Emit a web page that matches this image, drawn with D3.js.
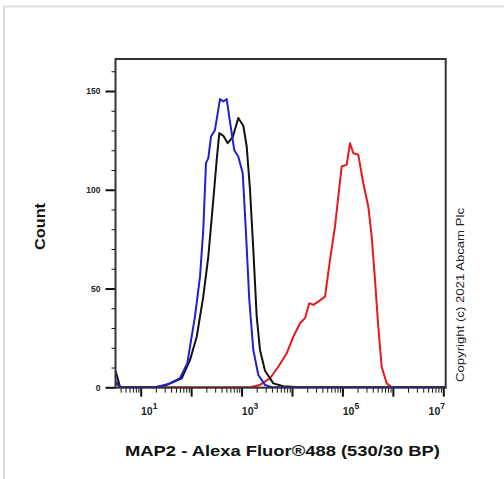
<!DOCTYPE html>
<html>
<head>
<meta charset="utf-8">
<script src="https://cdn.jsdelivr.net/npm/d3@7"></script>
<style>
  body { margin: 0; background: #fff; }
  svg { display: block; font-family: Arial, "Liberation Sans", sans-serif; }
</style>
</head>
<body>
<div class="canvas"></div>
<script>
// fluorescence intensity (linear units) and event counts
const blueX = [3.2, 3.9, 20.8, 38, 60, 84, 119, 150, 174, 197, 219, 248, 297, 374, 435, 507, 609, 718, 861, 1054, 1224, 1423, 1710, 2148, 2915, 4018, 11000000];
const blueY = [3, 0, 0, 2, 4.6, 12.2, 35.8, 56, 79.7, 113.5, 116, 127, 130.3, 145.9, 144.7, 145.9, 132, 120, 116.8, 108.4, 78, 44.2, 18.9, 6.2, 1.2, 0, 0];

const blackX = [3.2, 3.9, 19, 32.8, 65, 95, 129, 174, 219, 275, 321, 362, 435, 531, 667, 861, 1083, 1265, 1470, 1710, 1995, 2320, 2915, 4260, 6730, 14400, 11000000];
const blackY = [8, 0, 0, 1.2, 4.6, 13.8, 25.6, 45.9, 66.2, 94.9, 115, 128.7, 127.3, 123.6, 126.6, 136.3, 132.4, 121.9, 100, 69.6, 35.8, 18.9, 8.4, 2, 0.5, 0, 0];

const redX = [3.2, 3.9, 1470, 2320, 3664, 5354, 7852, 10620, 14420, 18120, 22040, 26480, 33260, 45170, 56750, 71270, 82800, 96800, 121600, 141300, 164400, 206500, 259400, 325800, 381000, 442600, 514000, 601000, 755000, 948000, 11000000];
const redY = [2, 0, 0, 1.2, 4.6, 10.4, 17.2, 25.6, 32.4, 35, 42.6, 41.7, 43.4, 45.9, 64.5, 81.4, 96.6, 111.8, 112.6, 123.6, 118.5, 117.7, 103.3, 91.5, 76.3, 54.4, 30.7, 10.4, 2, 0, 0];

const yTicks = [0, 50, 100, 150];
const yMinor = [10, 20, 30, 40, 60, 70, 80, 90, 110, 120, 130, 140, 160];
const xDecades = [10, 100, 1000, 10000, 100000, 1000000, 10000000];
const xLabelExp = [1, 3, 5, 7];

const xTitle = "MAP2 - Alexa Fluor®488 (530/30 BP)";
const yTitle = "Count";
const copyright = "Copyright (c) 2021 Abcam Plc";

const plotL = 115.5, plotR = 445.7, plotT = 59, plotB = 387.7;

const svg = d3.select(".canvas").append("svg").attr("width", 504).attr("height", 479);

// light frame around the figure
svg.append("rect")
  .attr("x", 4).attr("y", 6.5)
  .attr("width", 540).attr("height", 520)
  .attr("fill", "none")
  .attr("stroke", "#dcdcdc")
  .attr("stroke-width", 2);

const x = d3.scaleLog().domain([Math.pow(10, 0.5), Math.pow(10, 7.048)]).range([plotL, plotR]);
const y = d3.scaleLinear().domain([0, 166.2]).range([plotB - 0.4, plotT]);

// x minor ticks (2..9 per decade)
const xMinor = [];
for (let e = 0; e <= 7; e++) {
  for (let m = 2; m <= 9; m++) {
    const v = m * Math.pow(10, e);
    if (v > x.domain()[0] && v < x.domain()[1]) xMinor.push(v);
  }
}

svg.append("g")
  .attr("transform", `translate(0,${plotB})`)
  .call(d3.axisBottom(x).tickValues(xMinor).tickSize(5).tickFormat(""));

const xMajorAxis = svg.append("g")
  .attr("transform", `translate(0,${plotB})`)
  .call(d3.axisBottom(x).tickValues(xDecades).tickSize(9).tickPadding(11)
    .tickFormat((d) => (xLabelExp.includes(Math.round(Math.log10(d))) ? "10" : "")));

xMajorAxis.selectAll("line").attr("stroke-width", 2);
xMajorAxis.selectAll("text")
  .attr("font-size", 10.5)
  .attr("font-weight", "bold")
  .attr("fill", "#222")
  .attr("dx", (d) => (Math.round(Math.log10(d)) === 7 ? -7 : 8))
  .append("tspan")
  .attr("dy", -6)
  .attr("font-size", 8.5)
  .text((d) => (xLabelExp.includes(Math.round(Math.log10(d))) ? Math.round(Math.log10(d)) : ""));

svg.append("g")
  .attr("transform", `translate(${plotL},0)`)
  .call(d3.axisLeft(y).tickValues(yMinor).tickSize(4).tickFormat(""));

const yMajorAxis = svg.append("g")
  .attr("transform", `translate(${plotL},0)`)
  .call(d3.axisLeft(y).tickValues(yTicks).tickSize(10).tickPadding(5));

yMajorAxis.selectAll("line").attr("stroke-width", 2);
yMajorAxis.selectAll("text")
  .attr("font-size", 8.5)
  .attr("font-weight", "bold")
  .attr("fill", "#222");

svg.selectAll(".domain").remove();
svg.selectAll(".tick line").attr("stroke", "#111");

// curves
svg.append("clipPath").attr("id", "plot")
  .append("rect")
  .attr("x", plotL).attr("y", plotT)
  .attr("width", plotR - plotL).attr("height", plotB - plotT);

const line = d3.line()
  .x((d) => x(d[0]))
  .y((d) => y(d[1]));

const series = [
  { xs: redX, ys: redY, color: "#e41a1c" },
  { xs: blackX, ys: blackY, color: "#111111" },
  { xs: blueX, ys: blueY, color: "#1f1fd6" },
];

svg.append("g").attr("clip-path", "url(#plot)")
  .selectAll("path")
  .data(series)
  .enter()
  .append("path")
  .attr("d", (s) => line(s.xs.map((v, i) => [v, s.ys[i]])))
  .attr("fill", "none")
  .attr("stroke", (s) => s.color)
  .attr("stroke-width", 2)
  .attr("stroke-linejoin", "round");

// plot frame
svg.append("rect")
  .attr("x", plotL).attr("y", plotT)
  .attr("width", plotR - plotL).attr("height", plotB - plotT)
  .attr("fill", "none")
  .attr("stroke", "#333")
  .attr("stroke-width", 2);

// titles (the original text is a little stretched sideways)
svg.append("text")
  .attr("x", 125).attr("y", 456)
  .attr("textLength", 315)
  .attr("lengthAdjust", "spacingAndGlyphs")
  .attr("font-size", 15)
  .attr("font-weight", "bold")
  .attr("fill", "#111")
  .text(xTitle);

svg.append("text")
  .attr("transform", "translate(45,250) rotate(-90)")
  .attr("textLength", 47)
  .attr("lengthAdjust", "spacingAndGlyphs")
  .attr("font-size", 15)
  .attr("font-weight", "bold")
  .attr("fill", "#111")
  .text(yTitle);

svg.append("text")
  .attr("transform", "translate(464,382) rotate(-90)")
  .attr("textLength", 174)
  .attr("lengthAdjust", "spacingAndGlyphs")
  .attr("font-size", 11.5)
  .attr("fill", "#222")
  .text(copyright);
</script>
</body>
</html>
